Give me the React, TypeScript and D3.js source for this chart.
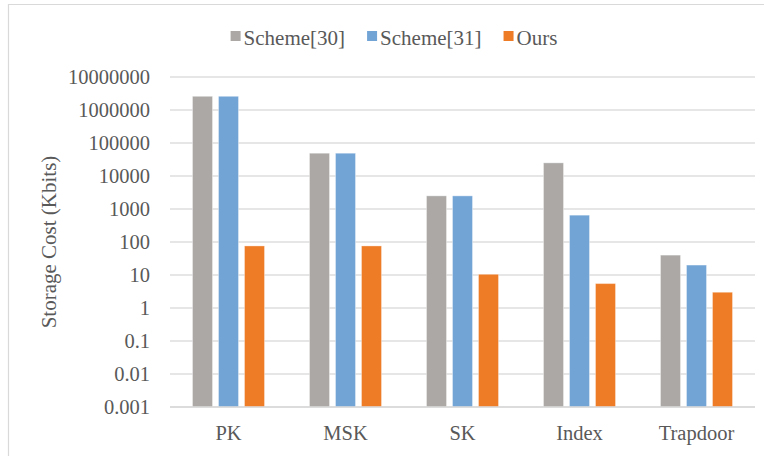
import React, { useEffect, useRef } from "react";
import * as d3 from "d3";

const categories = ["PK", "MSK", "SK", "Index", "Trapdoor"];
const seriesNames = ["Scheme[30]", "Scheme[31]", "Ours"];
const scheme30 = [2600000, 49000, 2500, 25000, 40];
const scheme31 = [2600000, 49000, 2500, 650, 20];
const ours = [76, 76, 10.5, 5.5, 3];
const seriesColors = ["#aba8a6", "#72a5d6", "#ee7b26"];
const tickValues = [0.001, 0.01, 0.1, 1, 10, 100, 1000, 10000, 100000, 1000000, 10000000];
const yTitle = "Storage Cost (Kbits)";

const W = 764;
const H = 456;
const FONT = '"Liberation Serif", Tinos, "Times New Roman", Times, "DejaVu Serif", serif';
const TEXT = "#595959";

export default function App() {
  const ref = useRef<SVGSVGElement | null>(null);

  useEffect(() => {
    const svg = d3.select(ref.current);
    svg.selectAll("*").remove();

    const plot = { left: 170, right: 755, top: 77, bottom: 407 };
    const values = [scheme30, scheme31, ours];

    // frame of the chart area
    svg.append("path")
      .attr("d", `M8.5,${H} V4.5 H${W}`)
      .attr("fill", "none")
      .attr("stroke", "#d9d9d9")
      .attr("stroke-width", 1.2);

    const y = d3.scaleLog().domain([0.001, 10000000]).range([plot.bottom, plot.top]);
    const x0 = d3.scaleBand<string>().domain(categories).range([plot.left, plot.right]);
    const groupW = 72;
    const x1 = d3.scaleBand<string>().domain(seriesNames)
      .range([0, groupW]).paddingInner(6 / 26).paddingOuter(0);

    // gridlines
    svg.append("g").selectAll("line").data(tickValues).join("line")
      .attr("x1", plot.left).attr("x2", plot.right)
      .attr("y1", (d) => y(d)).attr("y2", (d) => y(d))
      .attr("stroke", "#dedede").attr("stroke-width", 1.3);

    // tick labels
    svg.append("g").selectAll("text").data(tickValues).join("text")
      .attr("x", 150).attr("y", (d) => y(d)).attr("dy", "0.35em")
      .attr("text-anchor", "end")
      .style("font-family", FONT).style("font-size", "20.5px").attr("fill", TEXT)
      .text((d) => String(d));

    // bars
    const bars = svg.append("g");
    seriesNames.forEach((s, si) => {
      bars.append("g").selectAll("rect").data(values[si]).join("rect")
        .attr("x", (_, i) => (x0(categories[i]) as number) + x0.bandwidth() / 2 - groupW / 2 + (x1(s) as number))
        .attr("width", x1.bandwidth())
        .attr("y", (d) => y(d))
        .attr("height", (d) => plot.bottom - y(d))
        .attr("fill", seriesColors[si])
        .attr("stroke", "#ffffff")
        .attr("stroke-opacity", 0.35)
        .attr("stroke-width", 1);
    });

    // category axis line
    svg.append("line")
      .attr("x1", plot.left).attr("x2", plot.right)
      .attr("y1", plot.bottom).attr("y2", plot.bottom)
      .attr("stroke", "#d9d9d9").attr("stroke-width", 1.3);

    // category labels
    svg.append("g").selectAll("text").data(categories).join("text")
      .attr("x", (d) => (x0(d) as number) + x0.bandwidth() / 2)
      .attr("y", 440)
      .attr("text-anchor", "middle")
      .style("font-family", FONT).style("font-size", "20.5px").attr("fill", TEXT)
      .text((d) => d);

    // y-axis title
    svg.append("text")
      .attr("transform", `translate(56,${(plot.top + plot.bottom) / 2}) rotate(-90)`)
      .attr("text-anchor", "middle")
      .style("font-family", FONT).style("font-size", "21px").attr("fill", TEXT)
      .text(yTitle);

    // legend, centred over the chart area
    const legend = svg.append("g");
    const items = seriesNames.map((name, i) => {
      const g = legend.append("g");
      g.append("rect").attr("width", 10).attr("height", 10).attr("y", 31).attr("fill", seriesColors[i]);
      const t = g.append("text")
        .attr("x", 13).attr("y", 45)
        .style("font-family", FONT).style("font-size", "21px").attr("fill", TEXT)
        .text(name);
      const w = 13 + (t.node() as SVGTextElement).getComputedTextLength();
      return { g, w };
    });
    const gap = 22;
    const total = d3.sum(items, (d) => d.w) + gap * (items.length - 1);
    let cx = 394 - total / 2;
    items.forEach((it) => {
      it.g.attr("transform", `translate(${cx},0)`);
      cx += it.w + gap;
    });
  }, []);

  return (
    <svg
      ref={ref}
      width={W}
      height={H}
      style={{ position: "absolute", left: 0, top: 0, background: "#fff" }}
    />
  );
}
